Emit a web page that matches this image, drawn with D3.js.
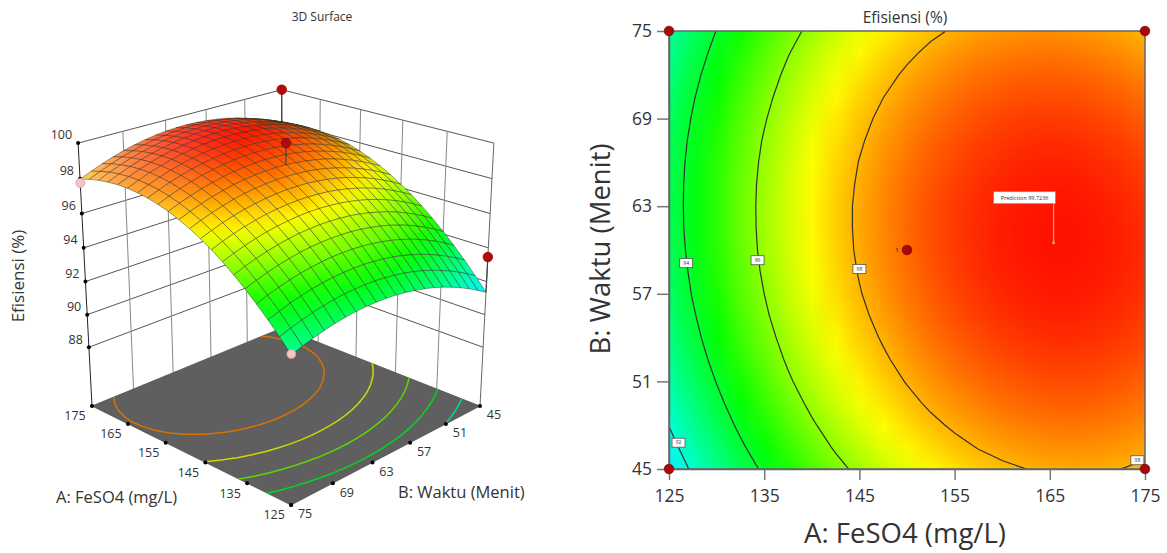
<!DOCTYPE html>
<html>
<head>
<meta charset="utf-8">
<title>Efisiensi</title>
<script src="https://cdn.jsdelivr.net/npm/d3@7"></script>
<style>
  html, body { margin: 0; background: #fff; }
  svg { display: block; }
  text { font-family: "Open Sans", "Noto Sans", sans-serif; fill: #333; }
</style>
</head>
<body>
<svg id="chart" width="1167" height="553"></svg>
<script>
var feso4Ticks = [125, 135, 145, 155, 165, 175];
var waktuTicks = [45, 51, 57, 63, 69, 75];
var efisiensiTicks = [88, 90, 92, 94, 96, 98, 100];

// sample positions of the surface, columns are FeSO4, rows are Waktu
var gridFeso4 = [125, 127.5, 130, 132.5, 135, 137.5, 140, 142.5, 145, 147.5, 150, 152.5, 155, 157.5, 160, 162.5, 165, 167.5, 170, 172.5, 175];
var gridWaktu = [45, 46.5, 48, 49.5, 51, 52.5, 54, 55.5, 57, 58.5, 60, 61.5, 63, 64.5, 66, 67.5, 69, 70.5, 72, 73.5, 75];
var efisiensi = [
  [91.36,92.13,92.85,93.52,94.15,94.73,95.27,95.76,96.20,96.60,96.95,97.25,97.51,97.72,97.88,98.00,98.07,98.09,98.07,98.00,97.88],
  [91.70,92.47,93.19,93.86,94.49,95.07,95.60,96.09,96.53,96.92,97.27,97.57,97.82,98.03,98.19,98.30,98.37,98.39,98.36,98.29,98.17],
  [92.02,92.79,93.50,94.17,94.79,95.37,95.90,96.38,96.82,97.21,97.55,97.85,98.10,98.30,98.46,98.57,98.64,98.65,98.62,98.55,98.43],
  [92.31,93.07,93.78,94.45,95.07,95.64,96.17,96.65,97.08,97.47,97.81,98.11,98.35,98.55,98.71,98.82,98.88,98.89,98.86,98.78,98.65],
  [92.57,93.32,94.03,94.70,95.32,95.89,96.41,96.89,97.32,97.70,98.04,98.33,98.57,98.77,98.92,99.03,99.08,99.10,99.06,98.98,98.85],
  [92.80,93.55,94.26,94.92,95.53,96.10,96.62,97.09,97.52,97.90,98.24,98.52,98.77,98.96,99.11,99.21,99.27,99.27,99.23,99.15,99.02],
  [93.00,93.75,94.45,95.11,95.72,96.28,96.80,97.27,97.70,98.07,98.41,98.69,98.93,99.12,99.26,99.36,99.42,99.42,99.38,99.29,99.16],
  [93.16,93.91,94.61,95.27,95.88,96.44,96.95,97.42,97.84,98.22,98.54,98.83,99.06,99.25,99.39,99.49,99.54,99.54,99.49,99.40,99.26],
  [93.30,94.05,94.75,95.40,96.00,96.56,97.07,97.54,97.96,98.33,98.65,98.93,99.16,99.35,99.49,99.58,99.63,99.63,99.58,99.48,99.34],
  [93.41,94.15,94.85,95.50,96.10,96.66,97.16,97.63,98.04,98.41,98.73,99.01,99.24,99.42,99.55,99.64,99.69,99.68,99.63,99.54,99.39],
  [93.49,94.23,94.92,95.57,96.17,96.72,97.22,97.68,98.10,98.46,98.78,99.05,99.28,99.46,99.59,99.68,99.72,99.71,99.66,99.56,99.41],
  [93.54,94.28,94.97,95.61,96.20,96.75,97.26,97.71,98.12,98.48,98.80,99.07,99.29,99.47,99.60,99.68,99.72,99.71,99.65,99.55,99.40],
  [93.56,94.29,94.98,95.62,96.21,96.76,97.26,97.71,98.12,98.48,98.79,99.06,99.28,99.45,99.58,99.66,99.69,99.68,99.62,99.51,99.36],
  [93.55,94.28,94.96,95.60,96.19,96.73,97.23,97.68,98.08,98.44,98.75,99.01,99.23,99.40,99.52,99.60,99.63,99.62,99.55,99.44,99.29],
  [93.51,94.24,94.92,95.55,96.14,96.68,97.17,97.62,98.02,98.37,98.68,98.94,99.15,99.32,99.44,99.52,99.54,99.52,99.46,99.35,99.19],
  [93.44,94.17,94.84,95.47,96.06,96.59,97.08,97.53,97.92,98.28,98.58,98.84,99.05,99.21,99.33,99.40,99.43,99.40,99.33,99.22,99.06],
  [93.34,94.06,94.74,95.36,95.94,96.48,96.97,97.41,97.80,98.15,98.45,98.70,98.91,99.07,99.19,99.26,99.28,99.25,99.18,99.06,98.90],
  [93.21,93.93,94.60,95.23,95.80,96.33,96.82,97.26,97.65,97.99,98.29,98.54,98.75,98.90,99.02,99.08,99.10,99.07,99.00,98.88,98.71],
  [93.05,93.77,94.44,95.06,95.63,96.16,96.64,97.08,97.47,97.81,98.10,98.35,98.55,98.71,98.81,98.88,98.89,98.86,98.78,98.66,98.49],
  [92.87,93.58,94.24,94.86,95.43,95.96,96.44,96.87,97.25,97.59,97.88,98.13,98.33,98.48,98.58,98.64,98.66,98.62,98.54,98.41,98.24],
  [92.65,93.36,94.02,94.63,95.20,95.72,96.20,96.63,97.01,97.35,97.63,97.88,98.07,98.22,98.32,98.38,98.39,98.35,98.27,98.14,97.96]
];

var floorLevels = [92.6, 94.1, 95.6, 97.05, 98.5];
var contourLevels = [92, 94, 96, 98];

// design points: feso4, waktu, efisiensi
var pointFeso4 = [175, 150, 125, 175, 125];
var pointWaktu = [45, 60, 45, 75, 75];
var pointEfisiensi = [100, 100, 93.46, 97.75, 92.7];

// contour labels on the right plot
var labelText = ['92', '94', '96', '98', '98'];
var labelFeso4 = [126, 126.8, 134.3, 145, 174.2];
var labelWaktu = [46.8, 59.1, 59.3, 58.7, 45.6];

var predictionFeso4 = 165.4, predictionWaktu = 60.5;

var svg = d3.select('#chart');
var defs = svg.append('defs');

var colorScale = d3.scaleLinear()
  .domain([88.7, 91.5, 94.5, 97.2, 99.9])
  .range(['#0000ff', '#00ffff', '#00ff00', '#ffff00', '#ff0000'])
  .clamp(true);

var flat = d3.merge(efisiensi);

// contours come back in grid units, grid point i sits at i + 0.5
var gridToFeso4 = d3.scaleLinear().domain([0.5, gridFeso4.length - 0.5]).range([125, 175]);
var gridToWaktu = d3.scaleLinear().domain([0.5, gridWaktu.length - 0.5]).range([45, 75]);
var contourMaker = d3.contours().size([gridFeso4.length, gridWaktu.length]);


/* ---------- 3D surface on the left ---------- */
var aScale = d3.scaleLinear().domain([125, 175]).range([-1, 1]);
var bScale = d3.scaleLinear().domain([45, 75]).range([-1, 1]);
var zFloor = 84.3;
var zScale = d3.scaleLinear().domain([zFloor, 100]).range([0, 1]);

function project(feso4, waktu, value) {
  var a = aScale(feso4), b = bScale(waktu), z = zScale(value)
    , h = (-a - b) / 2
    , d = (b - a) / 2
    , w = 1 - 0.1186 * d - 0.0667 * z
    ;
  return [286 + (194 * h + 4.5 * d) / w, 406 + (87.3 * d - 245.4 * z) / w];
}

function line3d(g, p, q, color, width) {
  g.append('line')
    .attr('x1', p[0]).attr('y1', p[1])
    .attr('x2', q[0]).attr('y2', q[1])
    .attr('stroke', color)
    .attr('stroke-width', width);
}

var left = svg.append('g');

// back walls
efisiensiTicks.forEach(function (v) {
  line3d(left, project(175, 75, v), project(175, 45, v), '#555', 1);
  line3d(left, project(175, 45, v), project(125, 45, v), '#555', 1);
});
waktuTicks.slice(1, -1).forEach(function (v) {
  line3d(left, project(175, v, zFloor), project(175, v, 100), '#888', 1);
});
feso4Ticks.slice(1, -1).forEach(function (v) {
  line3d(left, project(v, 45, zFloor), project(v, 45, 100), '#888', 1);
});
line3d(left, project(175, 45, zFloor), project(175, 45, 100), '#555', 1);
line3d(left, project(125, 45, zFloor), project(125, 45, 100), '#666', 1);
line3d(left, project(175, 75, zFloor), project(175, 75, 100), '#222', 1);

// floor with its contours
var floorPoints = [project(175, 75, zFloor), project(125, 75, zFloor), project(125, 45, zFloor), project(175, 45, zFloor)];
left.append('polygon')
  .attr('points', floorPoints.join(' '))
  .attr('fill', '#5f5f5f')
  .attr('stroke', '#444')
  .attr('stroke-width', 0.7);

defs.append('clipPath').attr('id', 'floor-clip')
  .append('polygon').attr('points', floorPoints.join(' '));

var floorPath = d3.geoPath(d3.geoTransform({
  point: function (x, y) {
    var p = project(gridToFeso4(x), gridToWaktu(y), zFloor);
    this.stream.point(p[0], p[1]);
  }
}));

left.append('g')
  .attr('clip-path', 'url(#floor-clip)')
  .selectAll('path')
  .data(floorLevels.map(function (l) { return contourMaker.contour(flat, l); }))
  .enter().append('path')
    .attr('d', floorPath)
    .attr('fill', 'none')
    .attr('stroke', function (d) { return d3.color(colorScale(d.value)).darker(0.45); })
    .attr('stroke-width', 1.5);

// tick dots and labels
function dot(g, p, r, fill, stroke) {
  g.append('circle')
    .attr('cx', p[0]).attr('cy', p[1]).attr('r', r)
    .attr('fill', fill)
    .attr('stroke', stroke || 'none')
    .attr('stroke-width', 0.7);
}

function label3d(p, dx, dy, txt, anchor) {
  left.append('text')
    .attr('x', p[0] + dx).attr('y', p[1] + dy)
    .attr('text-anchor', anchor || 'middle')
    .attr('dy', '0.35em')
    .style('font-size', '12.5px')
    .text(txt);
}

feso4Ticks.forEach(function (v) {
  var p = project(v, 75, zFloor);
  dot(left, p, 2, '#000');
  label3d(p, -17, 10, v);
});
waktuTicks.forEach(function (v) {
  var p = project(125, v, zFloor);
  dot(left, p, 2, '#000');
  label3d(p, 14, 9, v);
});
efisiensiTicks.forEach(function (v) {
  var p = project(175, 75, v);
  dot(left, p, 2, '#000');
  label3d(p, -6, -8, v, 'end');
});

// stem of the back corner goes behind the surface
function stem(i) {
  line3d(left,
    project(pointFeso4[i], pointWaktu[i], pointEfisiensi[i]),
    project(pointFeso4[i], pointWaktu[i], efisiensi[gridWaktu.indexOf(pointWaktu[i])][gridFeso4.indexOf(pointFeso4[i])]),
    '#444', 1.2);
}
stem(0);

// surface mesh, back to front
var quads = [];
gridWaktu.slice(0, -1).forEach(function (waktu, j) {
  gridFeso4.slice(0, -1).forEach(function (feso4, i) {
    quads.push({
      depth: bScale(waktu) - aScale(feso4),
      corners: [[i, j], [i + 1, j], [i + 1, j + 1], [i, j + 1]]
    });
  });
});
quads.sort(function (p, q) { return d3.ascending(p.depth, q.depth); });

// the light comes from the left: faces turned that way wash out, the far
// right edge where the mesh gets squeezed goes darker
function shade(color, slope, area) {
  var t = Math.min(0.42, 0.08 + 0.6 * slope);
  if (t >= 0) return d3.interpolateRgb(color, '#fff')(t);
  return d3.color(color).darker(0.9 * Math.max(0, (60 - area) / 60)).formatHex();
}

var surface = left.append('g');
quads.forEach(function (q, n) {
  var pts = q.corners.map(function (c) {
    return project(gridFeso4[c[0]], gridWaktu[c[1]], efisiensi[c[1]][c[0]]);
  });
  var vals = q.corners.map(function (c) { return efisiensi[c[1]][c[0]]; });
  var lo = d3.minIndex(vals), hi = d3.maxIndex(vals);
  var slope = vals[0] - vals[2];
  var area = Math.abs(d3.polygonArea(pts));
  var id = 'q' + n;
  var grad = defs.append('linearGradient').attr('id', id)
    .attr('gradientUnits', 'userSpaceOnUse')
    .attr('x1', pts[lo][0]).attr('y1', pts[lo][1])
    .attr('x2', pts[hi][0]).attr('y2', pts[hi][1]);
  grad.append('stop').attr('offset', 0).attr('stop-color', shade(colorScale(vals[lo]), slope, area));
  grad.append('stop').attr('offset', 1).attr('stop-color', shade(colorScale(vals[hi]), slope, area));
  surface.append('polygon')
    .attr('points', pts.join(' '))
    .attr('fill', 'url(#' + id + ')')
    .attr('stroke', '#2a2a20')
    .attr('stroke-opacity', 0.62)
    .attr('stroke-width', 0.7)
    .attr('stroke-linejoin', 'round');
});

// design points: red above the surface, pink below
[1, 2].forEach(stem);
[0, 1, 2].forEach(function (i) {
  dot(left, project(pointFeso4[i], pointWaktu[i], pointEfisiensi[i]), 4.8, '#b00a0a', '#8a0000');
});
[3, 4].forEach(function (i) {
  dot(left, project(pointFeso4[i], pointWaktu[i], pointEfisiensi[i]), 4.5, '#f6c3c6', '#d89a9e');
});

left.append('text').attr('x', 322).attr('y', 21)
  .attr('text-anchor', 'middle').style('font-size', '12px').text('3D Surface');
left.append('text').attr('transform', 'translate(24,276) rotate(-90)')
  .attr('text-anchor', 'middle').style('font-size', '17px').text('Efisiensi (%)');
left.append('text').attr('x', 56).attr('y', 503).style('font-size', '16.5px').text('A: FeSO4 (mg/L)');
left.append('text').attr('x', 398).attr('y', 498).style('font-size', '16.5px').text('B: Waktu (Menit)');


/* ---------- contour plot on the right ---------- */
var x = d3.scaleLinear().domain([125, 175]).range([669, 1145]);
var y = d3.scaleLinear().domain([45, 75]).range([469, 31]);

var right = svg.append('g');

defs.append('clipPath').attr('id', 'plot-clip')
  .append('rect')
    .attr('x', x(125)).attr('y', y(75))
    .attr('width', x(175) - x(125)).attr('height', y(45) - y(75));

// heat map: one canvas pixel per grid point, the browser smooths it when scaling up
var canvas = document.createElement('canvas');
canvas.width = gridFeso4.length;
canvas.height = gridWaktu.length;
var ctx = canvas.getContext('2d');
efisiensi.forEach(function (row, j) {
  row.forEach(function (v, i) {
    ctx.fillStyle = colorScale(v);
    ctx.fillRect(i, gridWaktu.length - 1 - j, 1, 1);
  });
});
var cellW = x(gridFeso4[1]) - x(gridFeso4[0]);
var cellH = y(gridWaktu[0]) - y(gridWaktu[1]);

var plot = right.append('g').attr('clip-path', 'url(#plot-clip)');
plot.append('image')
  .attr('x', x(125) - cellW / 2)
  .attr('y', y(75) - cellH / 2)
  .attr('width', x(175) - x(125) + cellW)
  .attr('height', y(45) - y(75) + cellH)
  .attr('preserveAspectRatio', 'none')
  .attr('href', canvas.toDataURL());

var contourPath = d3.geoPath(d3.geoTransform({
  point: function (px, py) {
    this.stream.point(x(gridToFeso4(px)), y(gridToWaktu(py)));
  }
}));

plot.selectAll('path')
  .data(contourLevels.map(function (l) { return contourMaker.contour(flat, l); }))
  .enter().append('path')
    .attr('d', contourPath)
    .attr('fill', 'none')
    .attr('stroke', '#333')
    .attr('stroke-width', 1.2);

// axes
var xAxis = right.append('g')
  .attr('transform', 'translate(0,' + y(45) + ')')
  .call(d3.axisBottom(x).tickValues(feso4Ticks).tickSize(11).tickPadding(10).tickSizeOuter(0));
var yAxis = right.append('g')
  .attr('transform', 'translate(' + x(125) + ',0)')
  .call(d3.axisLeft(y).tickValues(waktuTicks).tickSize(12).tickPadding(5).tickSizeOuter(0));
[xAxis, yAxis].forEach(function (a) {
  a.selectAll('text').style('font-size', '17.5px').style('font-family', '"Open Sans", sans-serif');
  a.selectAll('line').attr('stroke', '#777').attr('stroke-width', 1.5);
  a.select('.domain').attr('stroke', '#666').attr('stroke-width', 1.5);
});

right.append('rect')
  .attr('x', x(125)).attr('y', y(75))
  .attr('width', x(175) - x(125)).attr('height', y(45) - y(75))
  .attr('fill', 'none').attr('stroke', '#666').attr('stroke-width', 1.5);

// contour labels
labelText.forEach(function (t, i) {
  var g = right.append('g')
    .attr('transform', 'translate(' + x(labelFeso4[i]) + ',' + y(labelWaktu[i]) + ')');
  g.append('rect').attr('x', -6.5).attr('y', -4.5).attr('width', 13).attr('height', 9)
    .attr('fill', '#fff').attr('stroke', '#555').attr('stroke-width', 0.8);
  g.append('text').attr('text-anchor', 'middle').attr('dy', '0.35em')
    .style('font-size', '5px').text(t);
});

// design points
[0, 1, 2, 3, 4].forEach(function (i) {
  dot(right, [x(pointFeso4[i]), y(pointWaktu[i])], 4.8, '#a80808', '#7a0000');
});
right.append('text').attr('x', x(150) - 10).attr('y', y(60))
  .attr('dy', '0.35em').attr('text-anchor', 'middle').style('font-size', '5px').text('5');

// prediction flag
var px = x(predictionFeso4), py = y(predictionWaktu);
right.append('line').attr('x1', px).attr('y1', py).attr('x2', px).attr('y2', py - 40)
  .attr('stroke', '#d9a08a').attr('stroke-width', 1.2);
right.append('circle').attr('cx', px).attr('cy', py).attr('r', 1.5).attr('fill', '#e8a080');
right.append('rect').attr('x', px - 60).attr('y', py - 51).attr('width', 62).attr('height', 12)
  .attr('fill', '#fff').attr('stroke', '#888').attr('stroke-width', 0.8);
right.append('text').attr('x', px - 29).attr('y', py - 45).attr('dy', '0.35em')
  .attr('text-anchor', 'middle').style('font-size', '5.5px').text('Prediction 99.7236');

right.append('text').attr('x', 905).attr('y', 23)
  .attr('text-anchor', 'middle').style('font-size', '15.5px').text('Efisiensi (%)');
right.append('text').attr('x', 905).attr('y', 543)
  .attr('text-anchor', 'middle').style('font-size', '27.5px').text('A: FeSO4 (mg/L)');
right.append('text').attr('transform', 'translate(610,249) rotate(-90)')
  .attr('text-anchor', 'middle').style('font-size', '27.5px').text('B: Waktu (Menit)');
</script>
</body>
</html>
